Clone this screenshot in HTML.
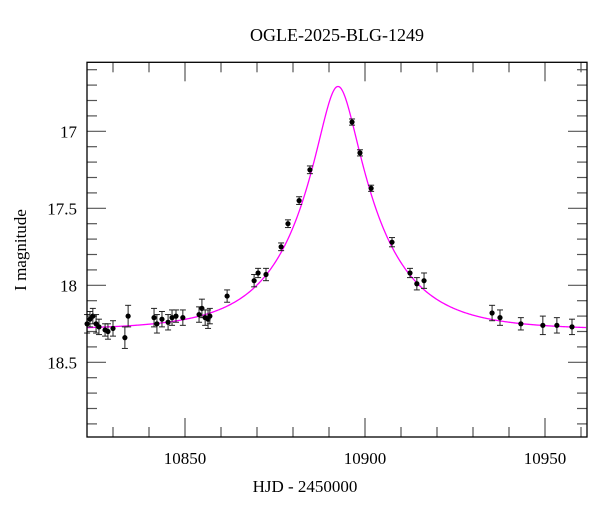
<!DOCTYPE html>
<html><head><meta charset="utf-8"><style>
body{margin:0;background:#fff;}
svg{display:block;font-family:"Liberation Serif",serif;}
</style></head><body>
<svg id="chart" width="600" height="512">
<text x="337" y="41" text-anchor="middle" font-size="18">OGLE-2025-BLG-1249</text>
<text x="305" y="492" text-anchor="middle" font-size="17">HJD - 2450000</text>
<text transform="translate(26,250) rotate(-90)" text-anchor="middle" font-size="17">I magnitude</text>
<g id="ticks"></g><g id="model"></g><g id="pts"></g>
<rect x="87" y="62.3" width="500" height="374.7" fill="none" stroke="#000" stroke-width="1.3"/>
</svg>
<script>
const times=[10822.8,10823.6,10824.4,10825.3,10826.1,10827.8,10828.6,10830.0,10833.3,10834.2,10841.4,10842.2,10843.6,10845.3,10846.4,10847.5,10849.4,10853.9,10854.7,10855.6,10856.4,10856.9,10861.7,10869.2,10870.3,10872.5,10876.7,10878.6,10881.7,10884.7,10896.4,10898.6,10901.7,10907.5,10912.5,10914.4,10916.4,10935.3,10937.5,10943.3,10949.4,10953.3,10957.5];
const mags=[18.25,18.22,18.20,18.25,18.27,18.29,18.30,18.28,18.34,18.20,18.21,18.25,18.22,18.24,18.21,18.20,18.21,18.19,18.15,18.21,18.22,18.20,18.07,17.97,17.92,17.93,17.75,17.60,17.45,17.25,16.94,17.14,17.37,17.72,17.92,17.99,17.97,18.18,18.21,18.25,18.26,18.26,18.27];
const errs=[0.06,0.05,0.05,0.06,0.05,0.04,0.05,0.05,0.07,0.07,0.06,0.06,0.05,0.05,0.05,0.04,0.05,0.05,0.06,0.05,0.06,0.05,0.04,0.04,0.03,0.04,0.025,0.025,0.025,0.025,0.02,0.02,0.02,0.03,0.03,0.04,0.05,0.05,0.05,0.04,0.06,0.05,0.05];
const xTicks=[10850,10900,10950];
const yTicks=[17,17.5,18,18.5];
const modelT0=10892.5, modelU0=0.238, modelTE=22, modelBase=18.29;
const X=t=>185+(t-10850)*3.6;
const Y=m=>131.3+(m-17)*154;
const NS='http://www.w3.org/2000/svg';
function mk(tag,attrs,parent){const e=document.createElementNS(NS,tag);for(const k in attrs)e.setAttribute(k,attrs[k]);parent.appendChild(e);return e;}
const tg=document.getElementById('ticks');
for(let t=10830;t<=10960;t+=10){
  const maj=xTicks.includes(t);const L=maj?19:10;const x=X(t);
  const a=mk('line',{x1:x,x2:x,y1:437,y2:437-L,stroke:'#555','stroke-width':1.2},tg);
  
  
  const b=mk('line',{x1:x,x2:x,y1:62.3,y2:62.3+L,stroke:'#555','stroke-width':1.2},tg);
  
  
}
xTicks.forEach(t=>{const e=mk('text',{x:X(t),y:464,'text-anchor':'middle','font-size':17},tg);e.textContent=t;
  
  });
for(let i=16;i<=39;i++){
  const m=i/10+15;const maj=yTicks.some(v=>Math.abs(v-m)<1e-6);const L=maj?19:10;const y=Y(m);
  const a=mk('line',{x1:87,x2:87+L,y1:y,y2:y,stroke:'#555','stroke-width':1.2},tg);
  
  
  const b=mk('line',{x1:587,x2:587-L,y1:y,y2:y,stroke:'#555','stroke-width':1.2},tg);
  
  
}
yTicks.forEach(m=>{const e=mk('text',{x:77,y:Y(m)+6,'text-anchor':'end','font-size':17},tg);e.textContent=String(m);
  
  });
let d='';
for(let t=10822.8;t<=10961.5;t+=0.2){
  const tau=(t-modelT0)/modelTE;const u=Math.sqrt(tau*tau+modelU0*modelU0);
  const A=(u*u+2)/(u*Math.sqrt(u*u+4));const m=modelBase-2.5*Math.log10(A);
  d+=(d?'L':'M')+X(t).toFixed(2)+','+Y(m).toFixed(2);
}
const p=mk('path',{d:d,fill:'none',stroke:'#ff00ff','stroke-width':1.3},document.getElementById('model'));


const pg=document.getElementById('pts');
times.forEach((t,i)=>{
  const g=mk('g',{},pg);
  
  
  const x=X(t),y1=Y(mags[i]-errs[i]),y2=Y(mags[i]+errs[i]);
  mk('line',{x1:x,x2:x,y1:y1,y2:y2,stroke:'#222','stroke-width':1},g);
  mk('line',{x1:x-3,x2:x+3,y1:y1,y2:y1,stroke:'#222','stroke-width':1},g);
  mk('line',{x1:x-3,x2:x+3,y1:y2,y2:y2,stroke:'#222','stroke-width':1},g);
  mk('circle',{cx:x,cy:Y(mags[i]),r:2.6,fill:'#000'},g);
});
</script>
</body></html>
